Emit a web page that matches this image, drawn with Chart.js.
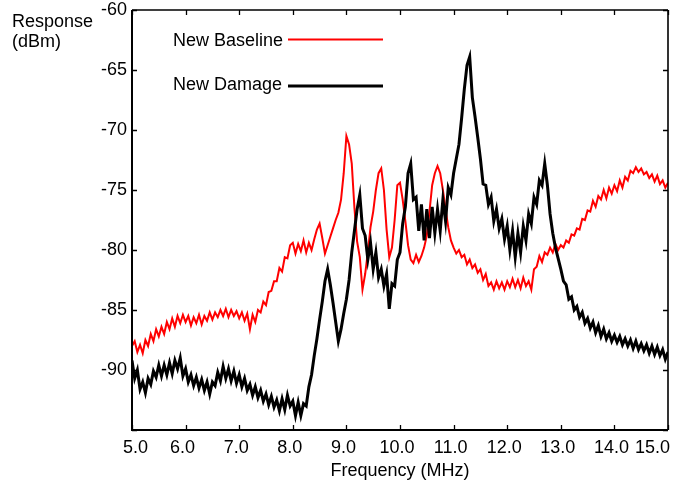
<!DOCTYPE html>
<html>
<head>
<meta charset="utf-8">
<script src="https://cdn.jsdelivr.net/npm/chart.js@4.4.1/dist/chart.umd.min.js"></script>
<style>
html,body{margin:0;padding:0;background:#fff;}
canvas{display:block;}
</style>
</head>
<body>
<canvas id="c" width="683" height="482"></canvas>
<script>
// Frequency grid (MHz)
const freq = [
5.00,5.05,5.10,5.15,5.20,5.25,5.30,5.35,5.40,5.45,5.50,5.55,5.60,5.65,5.70,5.75,5.80,5.85,5.90,5.95,
6.00,6.05,6.10,6.15,6.20,6.25,6.30,6.35,6.40,6.45,6.50,6.55,6.60,6.65,6.70,6.75,6.80,6.85,6.90,6.95,
7.00,7.05,7.10,7.15,7.20,7.25,7.30,7.35,7.40,7.45,7.50,7.55,7.60,7.65,7.70,7.75,7.80,7.85,7.90,7.95,
8.00,8.05,8.10,8.15,8.20,8.25,8.30,8.35,8.40,8.45,8.50,8.55,8.60,8.65,8.70,8.75,8.80,8.85,8.90,8.95,
9.00,9.05,9.10,9.15,9.20,9.25,9.30,9.35,9.40,9.45,9.50,9.55,9.60,9.65,9.70,9.75,9.80,9.85,9.90,9.95,
10.00,10.05,10.10,10.15,10.20,10.25,10.30,10.35,10.40,10.45,10.50,10.55,10.60,10.65,10.70,10.75,10.80,10.85,10.90,10.95,
11.00,11.05,11.10,11.15,11.20,11.25,11.30,11.35,11.40,11.45,11.50,11.55,11.60,11.65,11.70,11.75,11.80,11.85,11.90,11.95,
12.00,12.05,12.10,12.15,12.20,12.25,12.30,12.35,12.40,12.45,12.50,12.55,12.60,12.65,12.70,12.75,12.80,12.85,12.90,12.95,
13.00,13.05,13.10,13.15,13.20,13.25,13.30,13.35,13.40,13.45,13.50,13.55,13.60,13.65,13.70,13.75,13.80,13.85,13.90,13.95,
14.00,14.05,14.10,14.15,14.20,14.25,14.30,14.35,14.40,14.45,14.50,14.55,14.60,14.65,14.70,14.75,14.80,14.85,14.90,14.95,
15.00
];

// New Baseline response (dBm)
const baseline = [
-88.0,-87.6,-88.5,-87.9,-88.6,-87.5,-88.0,-87.0,-87.6,-86.6,-87.2,-86.4,-87.0,-86.0,-86.6,-85.7,-86.4,-85.5,-86.1,-85.4,
-86.0,-85.5,-86.3,-85.6,-86.1,-85.4,-86.2,-85.5,-85.9,-85.2,-85.8,-85.2,-85.6,-85.0,-85.5,-84.9,-85.6,-85.0,-85.5,-85.1,
-85.7,-85.2,-85.9,-85.3,-86.6,-85.4,-86.0,-85.0,-85.2,-84.3,-84.6,-83.5,-83.4,-82.6,-82.6,-81.5,-81.8,-80.6,-80.7,-79.6,
-79.4,-80.3,-79.5,-80.1,-79.2,-80.2,-79.4,-80.0,-79.1,-78.3,-77.8,-79.0,-80.3,-79.6,-78.9,-78.2,-77.5,-76.9,-75.8,-73.6,
-70.5,-71.2,-72.8,-76.5,-79.3,-80.6,-83.3,-82.0,-80.2,-78.1,-76.8,-75.0,-73.6,-73.2,-75.0,-78.3,-80.6,-79.8,-77.5,-74.6,
-74.4,-75.8,-77.6,-79.6,-80.8,-81.1,-80.4,-81.0,-80.5,-79.8,-78.8,-76.8,-74.6,-73.6,-73.0,-73.6,-75.0,-76.6,-78.1,-79.2,
-79.8,-80.3,-80.0,-80.6,-80.4,-81.2,-80.8,-81.5,-81.2,-81.9,-81.6,-82.5,-82.0,-83.0,-82.7,-83.3,-82.6,-83.2,-82.7,-83.3,
-82.6,-83.1,-82.4,-83.1,-82.5,-83.2,-82.3,-83.0,-82.6,-83.3,-81.6,-81.4,-80.5,-81.0,-80.2,-80.4,-79.8,-80.2,-79.5,-80.0,
-79.6,-79.8,-79.2,-79.4,-78.7,-78.8,-78.2,-78.3,-77.4,-77.5,-76.7,-76.8,-75.9,-76.4,-75.5,-75.8,-75.0,-75.7,-74.8,-75.3,
-74.6,-75.1,-74.2,-74.8,-73.9,-74.2,-73.4,-73.6,-73.1,-73.5,-73.2,-73.7,-73.5,-74.0,-73.7,-74.3,-73.8,-74.5,-74.2,-74.8,
-74.4
];

// New Damage response (dBm)
const damage = [
-89.2,-90.7,-90.0,-91.6,-91.0,-91.9,-90.7,-91.2,-90.1,-90.6,-89.6,-90.5,-89.6,-90.4,-89.4,-90.3,-89.2,-89.9,-89.0,-90.5,
-89.9,-91.0,-90.4,-91.3,-90.6,-91.5,-90.8,-91.7,-91.0,-92.0,-91.0,-91.3,-90.2,-90.9,-89.7,-90.7,-89.9,-90.9,-90.1,-91.1,
-90.4,-91.4,-90.7,-91.7,-91.2,-92.1,-91.4,-92.3,-91.7,-92.6,-92.0,-92.9,-92.2,-93.1,-92.5,-93.4,-92.4,-93.3,-92.1,-93.0,
-92.6,-93.8,-92.7,-93.8,-92.8,-93.0,-91.4,-90.4,-88.8,-87.4,-85.8,-84.3,-82.6,-81.6,-82.9,-84.4,-86.0,-87.6,-86.6,-85.3,
-84.1,-82.5,-80.2,-78.4,-76.6,-75.4,-78.2,-78.8,-80.8,-79.4,-81.6,-80.2,-82.3,-81.6,-83.0,-82.0,-84.9,-82.8,-83.0,-80.8,
-80.2,-77.8,-76.4,-73.6,-72.8,-75.8,-75.6,-78.4,-76.2,-79.2,-76.6,-79.0,-76.4,-78.6,-76.6,-78.4,-75.8,-77.6,-74.8,-75.4,
-73.6,-72.4,-71.2,-69.0,-66.6,-64.6,-63.9,-67.3,-68.9,-70.6,-72.4,-74.5,-74.6,-76.2,-75.6,-77.6,-76.6,-78.2,-77.4,-79.1,
-78.0,-80.0,-78.4,-80.6,-78.6,-80.2,-78.0,-79.2,-77.0,-77.8,-75.6,-76.2,-74.2,-74.6,-72.8,-74.6,-77.0,-78.6,-79.8,-80.7,
-81.6,-82.6,-82.9,-84.1,-83.9,-85.0,-84.7,-85.6,-85.2,-86.1,-85.7,-86.5,-86.0,-86.9,-86.3,-87.2,-86.6,-87.4,-86.9,-87.6,
-87.1,-87.7,-87.2,-87.9,-87.4,-88.0,-87.5,-88.2,-87.6,-88.3,-87.8,-88.4,-87.9,-88.6,-88.0,-88.7,-88.1,-88.8,-88.3,-89.1,
-88.5
];

const xTicks = [5,6,7,8,9,10,11,12,13,14,15];
const yTicks = [-60,-65,-70,-75,-80,-85,-90,-95];
const seriesNames = ['New Baseline','New Damage'];
const yTitle = ['Response','(dBm)'];
const xTitle = 'Frequency (MHz)';

const FONT = '"Liberation Sans", Arial, sans-serif';
Chart.defaults.font.family = FONT;
Chart.defaults.font.size = 18;
Chart.defaults.color = '#000';

const toXY = (vals) => freq.map((f, i) => ({x: f, y: vals[i]}));

const framePlugin = {
  id: 'frame',
  afterDraw(chart) {
    const {ctx, chartArea: a, scales} = chart;
    const xs = scales.x, ys = scales.y;
    ctx.save();
    ctx.strokeStyle = '#000';
    ctx.lineWidth = 1.6;
    ctx.beginPath();
    ctx.moveTo(a.left, a.top); ctx.lineTo(a.right, a.top);
    ctx.moveTo(a.right, a.top); ctx.lineTo(a.right, a.bottom);
    ctx.stroke();
    ctx.lineWidth = 2;
    ctx.beginPath();
    ctx.moveTo(a.left, a.top); ctx.lineTo(a.left, a.bottom);
    ctx.lineTo(a.right, a.bottom);
    ctx.stroke();
    ctx.lineWidth = 1.3;
    ctx.beginPath();
    xTicks.forEach(t => {
      const px = Math.round(xs.getPixelForValue(t)) + 0.5;
      ctx.moveTo(px, a.bottom); ctx.lineTo(px, a.bottom - 5);
      ctx.moveTo(px, a.top); ctx.lineTo(px, a.top + 5);
    });
    yTicks.forEach(t => {
      const py = Math.round(ys.getPixelForValue(t)) + 0.5;
      ctx.moveTo(a.left, py); ctx.lineTo(a.left + 5, py);
      ctx.moveTo(a.right, py); ctx.lineTo(a.right - 5, py);
    });
    ctx.stroke();

    ctx.fillStyle = '#000';
    ctx.font = '18px ' + FONT;

    // x tick labels (kept inside the canvas like the original)
    ctx.textBaseline = 'middle';
    ctx.textAlign = 'left';
    xTicks.forEach(t => {
      const s = t.toFixed(1);
      const w = ctx.measureText(s).width;
      let left = xs.getPixelForValue(t) - 3 - w / 2;
      left = Math.max(a.left - 9, Math.min(left, chart.width - 13 - w));
      ctx.fillText(s, left, a.bottom + 18);
    });

    // y title
    ctx.textAlign = 'left';
    ctx.textBaseline = 'alphabetic';
    ctx.fillText(yTitle[0], 12, 27);
    ctx.fillText(yTitle[1], 12, 47);

    // legend
    const colors = ['#ff0000', '#000000'];
    const widths = [2, 3];
    const rows = [40, 84];
    seriesNames.forEach((n, i) => {
      ctx.textBaseline = 'middle';
      ctx.fillText(n, 173, rows[i] + 1);
      ctx.strokeStyle = colors[i];
      ctx.lineWidth = widths[i];
      ctx.beginPath();
      ctx.moveTo(288, rows[i] + (i ? 2 : -0.5));
      ctx.lineTo(383, rows[i] + (i ? 2 : -0.5));
      ctx.stroke();
    });
    ctx.restore();
  }
};

new Chart(document.getElementById('c'), {
  type: 'line',
  data: {
    datasets: [
      {label: seriesNames[0], data: toXY(baseline), borderColor: '#ff0000', borderWidth: 2, pointRadius: 0, tension: 0, order: 1},
      {label: seriesNames[1], data: toXY(damage), borderColor: '#000000', borderWidth: 3, pointRadius: 0, tension: 0, order: 0}
    ]
  },
  options: {
    responsive: false,
    animation: false,
    events: [],
    layout: {padding: {left: 0, right: 15, top: 10, bottom: 0}},
    plugins: {legend: {display: false}, tooltip: {enabled: false}},
    scales: {
      x: {
        type: 'linear', min: 5, max: 15,
        afterFit(s) { s.height = 52; s.paddingLeft = 0; s.paddingRight = 0; },
        afterBuildTicks(s) { s.ticks = xTicks.map(v => ({value: v})); },
        grid: {display: false, drawTicks: false},
        border: {display: false},
        ticks: {display: false},
        title: {display: true, text: xTitle, padding: {top: 0, bottom: 0}}
      },
      y: {
        type: 'linear', min: -95, max: -60,
        afterFit(s) { s.width = 132; s.paddingTop = 0; s.paddingBottom = 0; },
        afterBuildTicks(s) { s.ticks = yTicks.filter(v => v !== -95).map(v => ({value: v})); },
        grid: {display: false, drawTicks: false},
        border: {display: false},
        ticks: {padding: 5, autoSkip: false, callback: v => String(v)}
      }
    }
  },
  plugins: [framePlugin]
});
</script>
</body>
</html>
